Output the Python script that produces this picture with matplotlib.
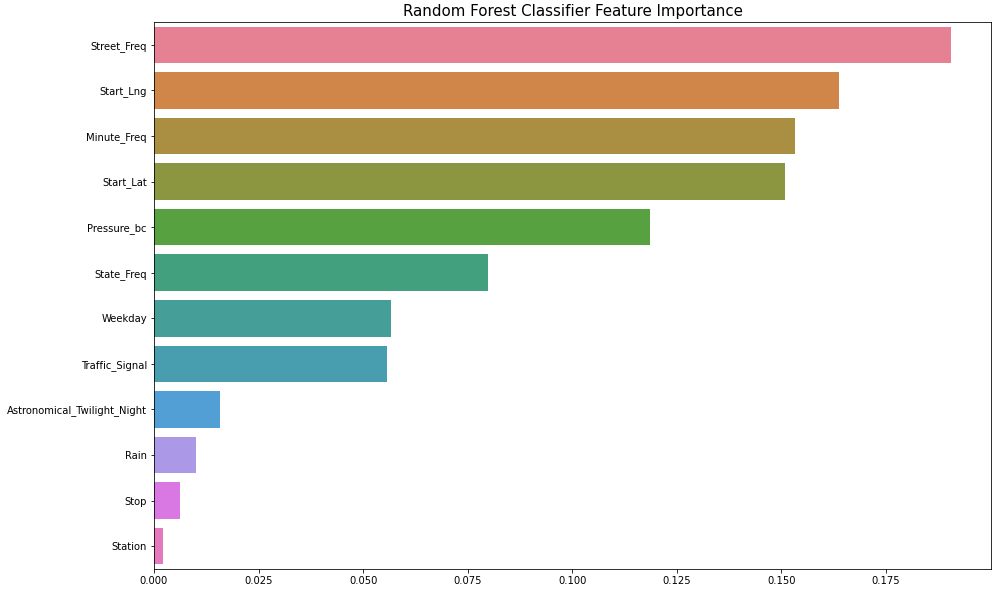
import matplotlib
matplotlib.use("Agg")
import matplotlib.pyplot as plt
import seaborn as sns

features = ["Street_Freq", "Start_Lng", "Minute_Freq", "Start_Lat", "Pressure_bc",
            "State_Freq", "Weekday", "Traffic_Signal", "Astronomical_Twilight_Night",
            "Rain", "Stop", "Station"]
importance = [0.1905, 0.1638, 0.1532, 0.1508, 0.1186, 0.0798, 0.0567, 0.0557,
              0.0158, 0.0100, 0.0062, 0.0022]

fig = plt.figure(figsize=(998 / 72, 592 / 72), dpi=72)
ax = fig.add_axes([154 / 998, 1 - 569 / 592, (991 - 154) / 998, (569 - 22) / 592])
sns.barplot(x=importance, y=features, hue=features, palette="husl", legend=False,
            saturation=0.75, ax=ax)
ax.set_xlim(0, 0.2001)
ax.set_xticks([0, 0.025, 0.05, 0.075, 0.1, 0.125, 0.15, 0.175])
ax.set_xticklabels(["0.000", "0.025", "0.050", "0.075", "0.100", "0.125", "0.150", "0.175"])
ax.set_title("Random Forest Classifier Feature Importance", fontsize=15)
ax.set_xlabel("")
ax.set_ylabel("")
fig.savefig("out.png", dpi=72, facecolor="white")
